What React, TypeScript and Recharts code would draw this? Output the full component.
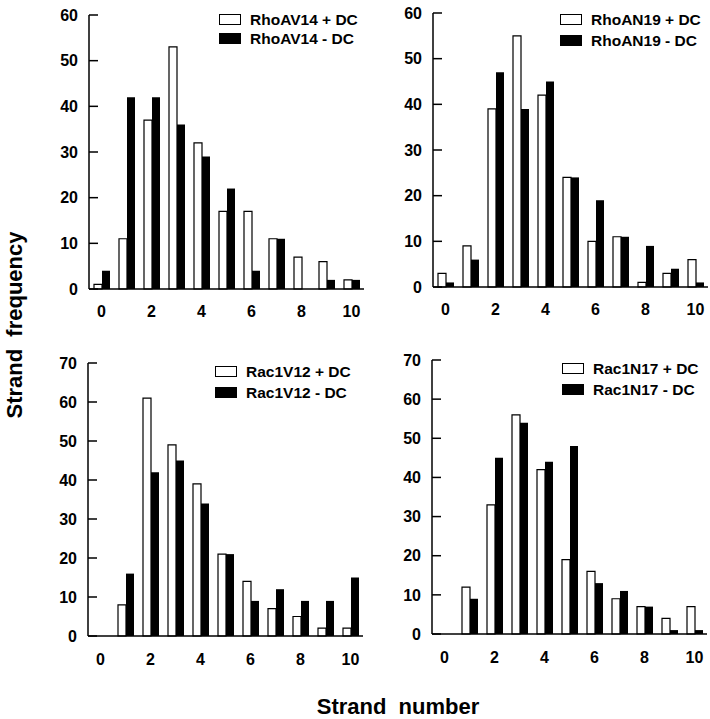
import { Bar, BarChart, Legend, XAxis, YAxis } from "recharts";

// strand number categories (x axis)
const strandNumbers = [0, 1, 2, 3, 4, 5, 6, 7, 8, 9, 10];

// RhoAV14
const rhoAV14Plus = [1, 11, 37, 53, 32, 17, 17, 11, 7, 6, 2];
const rhoAV14Minus = [4, 42, 42, 36, 29, 22, 4, 11, 0, 2, 2];

// RhoAN19
const rhoAN19Plus = [3, 9, 39, 55, 42, 24, 10, 11, 1, 3, 6];
const rhoAN19Minus = [1, 6, 47, 39, 45, 24, 19, 11, 9, 4, 1];

// Rac1V12
const rac1V12Plus = [0, 8, 61, 49, 39, 21, 14, 7, 5, 2, 2];
const rac1V12Minus = [0, 16, 42, 45, 34, 21, 9, 12, 9, 9, 15];

// Rac1N17
const rac1N17Plus = [0, 12, 33, 56, 42, 19, 16, 9, 7, 4, 7];
const rac1N17Minus = [0, 9, 45, 54, 44, 48, 13, 11, 7, 1, 1];

const ticks60 = [0, 10, 20, 30, 40, 50, 60];
const ticks70 = [0, 10, 20, 30, 40, 50, 60, 70];

const FONT = "'Liberation Sans', Arial, Helvetica, sans-serif";
const AXIS_W = 60;
const PAD_TOP = 10;
const X_AXIS_H = 40;
const BAND = 25;

type PanelCfg = {
  name: string;
  plus: number[];
  minus: number[];
  yMax: number;
  yTicks: number[];
  axisX: number;
  topY: number;
  baseY: number;
  legendX: number;
  legendY: number;
  rowGap: number;
  labelGap: number;
};

const panels: PanelCfg[] = [
  { name: "RhoAV14", plus: rhoAV14Plus, minus: rhoAV14Minus, yMax: 60, yTicks: ticks60, axisX: 89, topY: 15, baseY: 289, legendX: 219, legendY: 10, rowGap: 19, labelGap: 17 },
  { name: "RhoAN19", plus: rhoAN19Plus, minus: rhoAN19Minus, yMax: 60, yTicks: ticks60, axisX: 433, topY: 13, baseY: 287, legendX: 560, legendY: 9, rowGap: 21, labelGap: 17 },
  { name: "Rac1V12", plus: rac1V12Plus, minus: rac1V12Minus, yMax: 70, yTicks: ticks70, axisX: 88, topY: 363, baseY: 636, legendX: 215, legendY: 361, rowGap: 21, labelGap: 18 },
  { name: "Rac1N17", plus: rac1N17Plus, minus: rac1N17Minus, yMax: 70, yTicks: ticks70, axisX: 432, topY: 360, baseY: 634, legendX: 562, legendY: 358, rowGap: 21, labelGap: 18 },
];

function LegendBox({ name, rowGap }: { name: string; rowGap: number }) {
  const rows = [
    { label: `${name} + DC`, fill: "#fff" },
    { label: `${name} - DC`, fill: "#000" },
  ];
  return (
    <div style={{ fontFamily: FONT, fontWeight: "bold", fontSize: 15.5, color: "#000" }}>
      {rows.map((r) => (
        <div key={r.label} style={{ display: "flex", alignItems: "center", height: rowGap, whiteSpace: "nowrap" }}>
          <span
            style={{
              display: "inline-block",
              width: 20,
              height: 9,
              background: r.fill,
              border: "1px solid #000",
              marginRight: 9,
            }}
          />
          <span>{r.label}</span>
        </div>
      ))}
    </div>
  );
}

function Panel({ cfg }: { cfg: PanelCfg }) {
  const data = strandNumbers.map((n, i) => ({ n, plus: cfg.plus[i], minus: cfg.minus[i] }));
  const plotH = cfg.baseY - cfg.topY;
  const left = cfg.axisX - AXIS_W;
  const top = cfg.topY - PAD_TOP;
  const width = AXIS_W + BAND * strandNumbers.length + 2;
  const height = PAD_TOP + plotH + X_AXIS_H;
  const tickStyle = { fill: "#000", fontSize: 16, fontWeight: "bold", fontFamily: FONT };

  return (
    <div style={{ position: "absolute", left, top }}>
      <BarChart
        width={width}
        height={height}
        data={data}
        margin={{ top: PAD_TOP, right: 2, bottom: 0, left: 0 }}
        barGap={0}
      >
        <XAxis
          dataKey="n"
          interval={1}
          height={X_AXIS_H}
          tickLine={false}
          tickSize={0}
          tickMargin={cfg.labelGap}
          axisLine={{ stroke: "#000", strokeWidth: 1.5 }}
          tick={tickStyle}
        />
        <YAxis
          domain={[0, cfg.yMax]}
          ticks={cfg.yTicks}
          width={AXIS_W}
          tickSize={-9}
          tickMargin={20}
          tickLine={{ stroke: "#000", strokeWidth: 1.5 }}
          axisLine={{ stroke: "#000", strokeWidth: 1.5 }}
          tick={tickStyle}
        />
        <Bar dataKey="plus" name={`${cfg.name} + DC`} fill="#fff" stroke="#000" strokeWidth={1.2} barSize={8} isAnimationActive={false} />
        <Bar dataKey="minus" name={`${cfg.name} - DC`} fill="#000" barSize={8} isAnimationActive={false} />
        <Legend
          layout="vertical"
          align="center"
          verticalAlign="middle"
          wrapperStyle={{ left: cfg.legendX - left, top: cfg.legendY - top, width: 160 }}
          content={() => <LegendBox name={cfg.name} rowGap={cfg.rowGap} />}
        />
      </BarChart>
    </div>
  );
}

export default function App() {
  return (
    <div style={{ position: "absolute", left: 0, top: 0, width: 710, height: 719, background: "#fff", fontFamily: FONT, overflow: "hidden" }}>
      {panels.map((p) => (
        <Panel key={p.name} cfg={p} />
      ))}
      <div
        style={{
          position: "absolute",
          left: 15,
          top: 325,
          transform: "translate(-50%, -50%) rotate(-90deg)",
          fontSize: 22,
          lineHeight: 1,
          fontWeight: "bold",
          whiteSpace: "pre",
        }}
      >
        {"Strand  frequency"}
      </div>
      <div
        style={{
          position: "absolute",
          left: 398,
          top: 696,
          transform: "translateX(-50%)",
          fontSize: 22,
          lineHeight: 1,
          fontWeight: "bold",
          whiteSpace: "pre",
        }}
      >
        {"Strand  number"}
      </div>
    </div>
  );
}
